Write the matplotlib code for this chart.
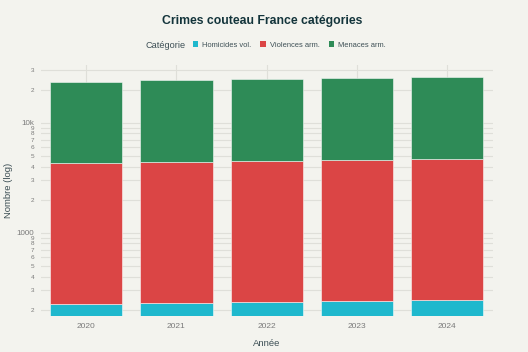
import numpy as np
import matplotlib
matplotlib.use("Agg")
import matplotlib.pyplot as plt
from matplotlib.ticker import LogLocator, FuncFormatter
from matplotlib.patches import Patch

# data
annees = ["2020", "2021", "2022", "2023", "2024"]
homicides = [225, 230, 235, 240, 245]
violences = [4050, 4165, 4250, 4370, 4430]
menaces = [19300, 19900, 20400, 20900, 21300]

categories = ["Homicides vol.", "Violences arm.", "Menaces arm."]
couleurs = ["#1FB8CD", "#DB4545", "#2E8B57"]

BG = "#F3F3EE"
GRID = "#DFDFD9"
TXT = "#13343B"
LBL = "#3D4F55"
TICK = "#7A7A7A"

plt.rcParams["font.family"] = ["Liberation Sans", "DejaVu Sans"]

fig = plt.figure(figsize=(5.28, 3.52), dpi=100, facecolor=BG)
ax = fig.add_axes([41 / 528, 1 - 316 / 352, 451.5 / 528, 251 / 352])
ax.set_facecolor(BG)

x = np.arange(len(annees))
bas = np.zeros(len(annees))
series = [homicides, violences, menaces]
for vals, nom, c in zip(series, categories, couleurs):
    vals = np.array(vals, dtype=float)
    # first segment starts below the visible axis
    base = bas if bas.any() else np.full(len(annees), 1.0)
    hauteur = vals if bas.any() else vals - 1.0
    ax.bar(x, hauteur, bottom=base, width=0.8, color=c, label=nom,
           edgecolor=(1, 1, 1, 0.6), linewidth=0.6, zorder=3)
    bas = bas + vals

ax.set_yscale("log")
ax.set_ylim(175, 33500)
ax.set_xlim(-0.5, len(annees) - 0.5)
ax.set_xticks(x)
ax.set_xticklabels(annees)

ax.yaxis.set_major_locator(LogLocator(base=10))
ax.yaxis.set_minor_locator(LogLocator(base=10, subs=np.arange(2, 10)))


def fmt_major(v, pos):
    if v >= 10000:
        return f"{int(v / 1000)}k"
    return f"{int(round(v))}"


def fmt_minor(v, pos):
    d = v / 10 ** np.floor(np.log10(v) + 1e-9)
    return f"{int(round(d))}"


ax.yaxis.set_major_formatter(FuncFormatter(fmt_major))
ax.yaxis.set_minor_formatter(FuncFormatter(fmt_minor))

ax.tick_params(axis="both", which="both", length=0, colors=TICK)
ax.tick_params(axis="y", which="major", labelsize=5.8, pad=5)
ax.tick_params(axis="y", which="minor", labelsize=4.6, pad=5)
ax.tick_params(axis="x", labelsize=6, pad=5)

ax.grid(True, axis="y", which="both", color=GRID, linewidth=0.8, zorder=0)
ax.grid(True, axis="x", which="major", color=GRID, linewidth=0.8, zorder=0)
for s in ax.spines.values():
    s.set_visible(False)

fig.text(0.497, 1 - 21 / 352, "Crimes couteau France catégories", ha="center",
         va="center", fontsize=8.8, color=TXT, fontweight="bold")
ax.set_xlabel("Année", fontsize=6.8, color=LBL)
ax.set_ylabel("Nombre (log)", fontsize=6.8, color=LBL)
ax.xaxis.set_label_coords(0.5, -0.09)
ax.yaxis.set_label_coords(-0.062, 0.5)

fig.text(145 / 528, 1 - 45 / 352, "Catégorie", ha="left", va="center",
         fontsize=6.6, color=LBL)
handles = [Patch(facecolor=c, label=n) for c, n in zip(couleurs, categories)]
fig.legend(handles=handles, loc="center left", bbox_to_anchor=(186 / 528, 1 - 45 / 352),
           ncol=3, frameon=False, fontsize=5.4, handlelength=0.75, handleheight=0.75,
           handletextpad=0.5, columnspacing=1.2, labelcolor=LBL)

fig.savefig("out.png", dpi=100, facecolor=BG)
